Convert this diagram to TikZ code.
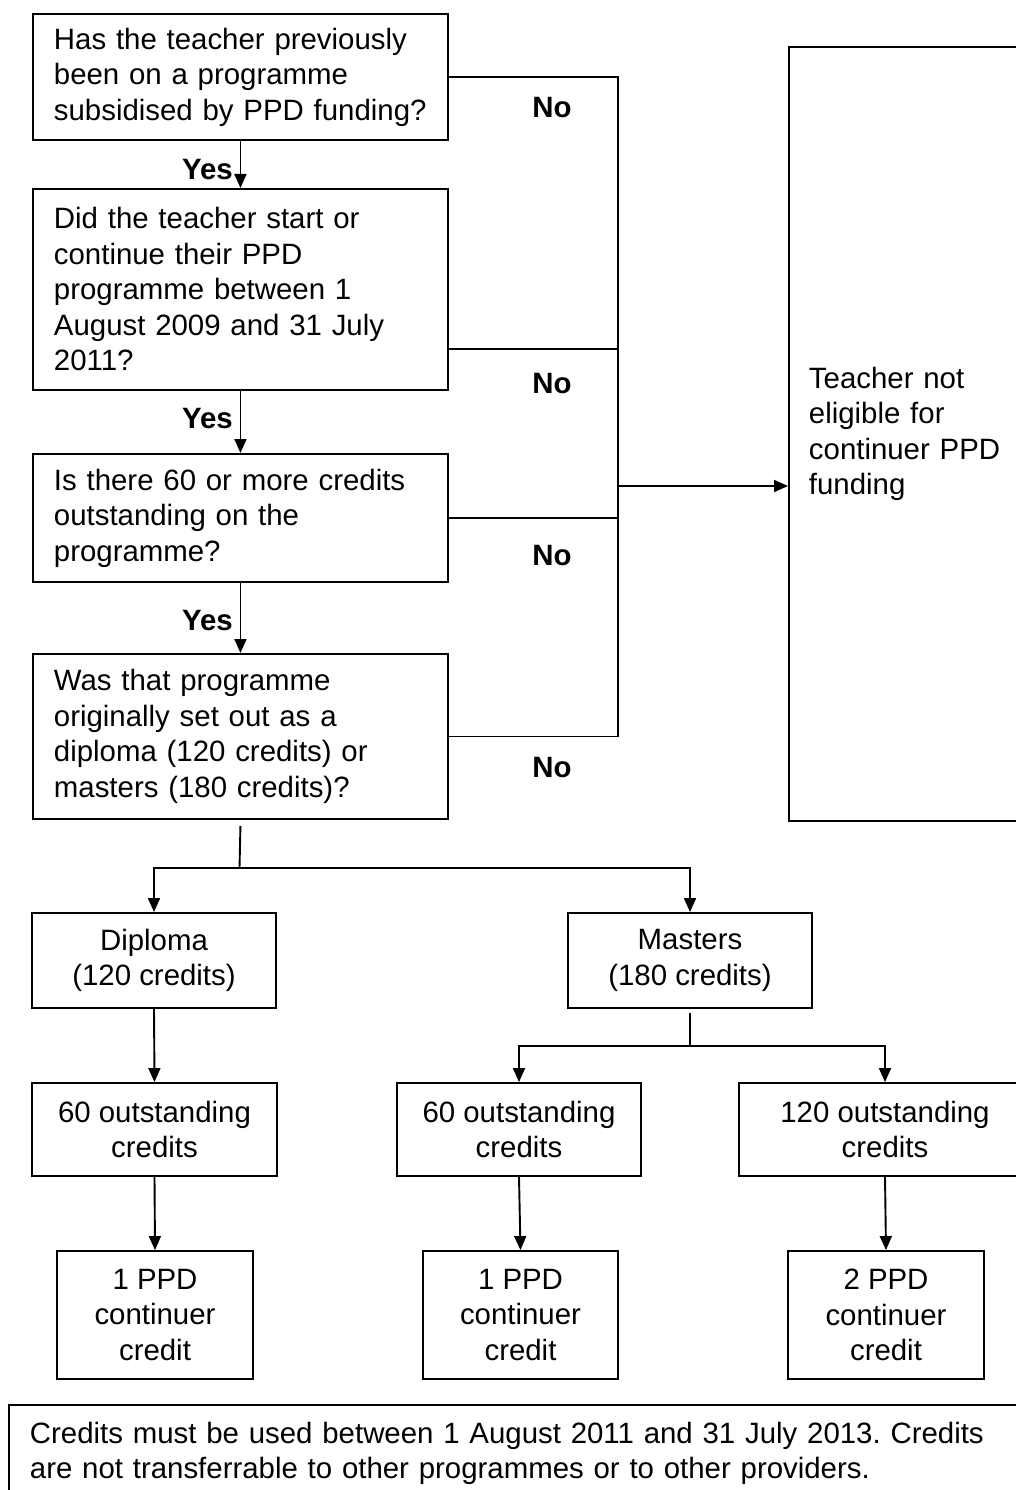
\documentclass[tikz,border=0pt]{standalone}
\usepackage{fontspec}
\setmainfont{Liberation Sans}
\usetikzlibrary{arrows.meta}
\frenchspacing
\begin{document}
\begin{tikzpicture}[x=1pt,y=-1pt,
  every node/.style={font=\fontsize{29.4}{35.5}\selectfont},
  qbox/.style={draw, line width=1.9pt, rectangle, anchor=north west, inner xsep=21pt, inner ysep=0pt, text width=373pt, minimum width=415pt, align=left},
  cbox/.style={draw, line width=1.9pt, rectangle, inner sep=0pt, align=center},
  lbl/.style={font=\fontsize{29.4}{35.5}\selectfont\bfseries, inner sep=0pt},
  conn/.style={line width=1.9pt},
  arr/.style={line width=1.9pt, -{Triangle[length=14pt,width=12pt]}}
]
\useasboundingbox (0,0) rectangle (1016,1490);
\clip (0,0) rectangle (1016,1490);

% question boxes
\node[qbox, minimum height=126pt] (b1) at (32,13) {Has the teacher previously\\been on a programme\\subsidised by PPD funding?};
\node[qbox, minimum height=201pt] (b2) at (32,188) {Did the teacher start or\\continue their PPD\\programme between 1\\August 2009 and 31 July\\2011?};
\node[qbox, minimum height=128pt] (b3) at (32,453) {Is there 60 or more credits\\outstanding on the\\programme?};
\node[qbox, minimum height=165pt] (b4) at (32,653) {Was that programme\\originally set out as a\\diploma (120 credits) or\\masters (180 credits)?};

% not eligible box
\node[draw, line width=1.9pt, rectangle, anchor=north west, inner xsep=20pt, inner ysep=0pt, text width=230pt, minimum width=270pt, minimum height=774pt, align=left] (big) at (788,46) {Teacher not\\eligible for\\continuer PPD\\funding};

% yes arrows
\draw[arr] (b1.south) -- (b2.north);
\draw[arr] (b2.south) -- (b3.north);
\draw[arr] (b3.south) -- (b4.north);
\node[lbl, anchor=east] (y1) at (233,170) {Yes};
\node[lbl, anchor=east] (y2) at (233,419) {Yes};
\node[lbl, anchor=east] (y3) at (233,621) {Yes};

% no bus
\coordinate (busx) at (618,0);
\coordinate (n2) at ([yshift=-59.5pt]b2.east);
\coordinate (j) at (618,486);
\draw[conn] (b1.east) -- (b1.east -| busx) -- (b4.east -| busx) -- (b4.east);
\draw[conn] (n2) -- (n2 -| busx);
\draw[conn] (b3.east) -- (b3.east -| busx);
\draw[arr] (j) -- (j -| big.west);
\node[lbl] (no1) at (552,108) {No};
\node[lbl] (no2) at (552,384) {No};
\node[lbl] (no3) at (552,556) {No};
\node[lbl] (no4) at (552,768) {No};

% second level
\node[cbox, minimum width=244pt, minimum height=95pt] (dip) at (154,960.5) {Diploma\\(120 credits)};
\node[cbox, minimum width=244pt, minimum height=95pt] (mas) at (690,960.5) {Masters\\(180 credits)};
\node[cbox, minimum width=245pt, minimum height=93pt] (d60) at (154.5,1129.5) {60 outstanding\\credits};
\node[cbox, minimum width=244pt, minimum height=93pt] (m60) at (519,1129.5) {60 outstanding\\credits};
\node[cbox, minimum width=292pt, minimum height=93pt] (m120) at (885,1129.5) {120 outstanding\\credits};
\node[cbox, minimum width=196pt, minimum height=128pt] (r1) at (155,1315) {1 PPD\\continuer\\credit};
\node[cbox, minimum width=195pt, minimum height=128pt] (r2) at (520.5,1315) {1 PPD\\continuer\\credit};
\node[cbox, minimum width=196pt, minimum height=128pt] (r3) at (886,1315) {2 PPD\\continuer\\credit};

% fork from question 4
\coordinate (f1) at (239.5,868);
\draw[conn] ([yshift=-6pt]b4.south) -- (f1);
\draw[arr] (f1) -| (dip.north);
\draw[arr] (f1) -| (mas.north);

% fork from masters
\coordinate (f2) at (690,1046);
\draw[conn] ([yshift=-4pt]mas.south) -- (f2);
\draw[arr] (f2) -| (m60.north);
\draw[arr] (f2) -| (m120.north);

\draw[arr] (dip.south) -- (d60.north);
\draw[arr] (d60.south) -- (r1.north);
\draw[arr] (m60.south) -- (r2.north);
\draw[arr] (m120.south) -- (r3.north);

% note
\node[draw, line width=1.9pt, rectangle, anchor=north west, inner xsep=21pt, inner ysep=0pt, text width=1000pt, minimum width=1042pt, minimum height=97pt, align=left] (note) at (8,1404) {Credits must be used between 1 August 2011 and 31 July 2013. Credits\\are not transferrable to other programmes or to other providers.};
\end{tikzpicture}
\end{document}
